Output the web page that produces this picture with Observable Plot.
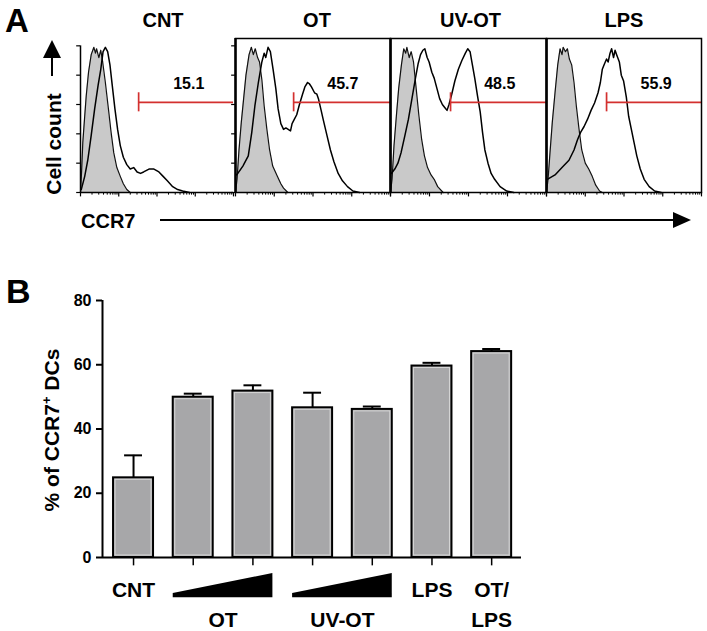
<!DOCTYPE html>
<html><head><meta charset="utf-8">
<script src="https://cdn.jsdelivr.net/npm/d3@7"></script>
<script src="https://cdn.jsdelivr.net/npm/@observablehq/plot@0.6"></script>
<style>
html,body{margin:0;padding:0;background:#fff;}
#root{position:relative;width:707px;height:631px;overflow:hidden;font-family:"Liberation Sans",Arial,Helvetica,sans-serif;font-weight:bold;color:#000;}
#root svg.part{position:absolute;overflow:visible;background:transparent;}
</style></head><body><div id="root"></div>
<script>
// ================= Panel A data (x = log decades of CCR7 intensity, y = % of max count) =================
const panelNames = ["CNT", "OT", "UV-OT", "LPS"];
const gatePercents = ["15.1", "45.7", "48.5", "55.9"];
const gateStarts = [1.52, 1.50, 1.54, 1.55];
const gateLevel = 61.5;
const gateLabelX = [2.83, 2.77, 2.80, 2.83];
const gateLabelY = 74;

const isoCNT = [[0,0],[0.03,15],[0.06,34],[0.11,52],[0.15,66],[0.21,82],[0.28,94],[0.35,99],[0.39,95],[0.42,98],[0.48,92],[0.53,97],[0.58,89],[0.65,75],[0.73,57],[0.80,41],[0.87,27],[0.95,17],[1.04,11],[1.12,6],[1.21,2],[1.30,0]];
const smpCNT = [[0.02,2],[0.11,11],[0.19,22],[0.28,39],[0.37,57],[0.46,73],[0.53,84],[0.59,96],[0.65,99],[0.71,96],[0.77,87],[0.83,73],[0.90,57],[0.97,43],[1.04,32],[1.12,24],[1.21,19],[1.30,16],[1.39,17],[1.48,14],[1.57,13],[1.65,14],[1.79,16],[1.92,16],[2.05,14],[2.16,11],[2.27,8],[2.41,4],[2.54,2],[2.67,1],[2.85,0]];

const isoOT = [[0,0],[0.04,9],[0.09,29],[0.15,48],[0.21,64],[0.27,80],[0.35,94],[0.41,99],[0.46,94],[0.51,98],[0.57,92],[0.62,89],[0.68,77],[0.74,59],[0.81,43],[0.88,29],[0.96,18],[1.08,11],[1.17,6],[1.24,3],[1.35,0]];
const smpOT = [[0.02,12],[0.06,13],[0.19,18],[0.33,25],[0.42,41],[0.50,59],[0.59,75],[0.68,89],[0.74,95],[0.78,92],[0.84,99],[0.90,96],[0.97,84],[1.04,71],[1.10,57],[1.17,47],[1.24,43],[1.30,44],[1.36,43],[1.42,42],[1.46,47],[1.52,50],[1.58,53],[1.65,60],[1.73,67],[1.79,72],[1.86,75],[1.91,74],[1.96,72],[2.04,68],[2.10,67],[2.14,64],[2.21,56],[2.27,49],[2.36,39],[2.45,29],[2.54,21],[2.65,13],[2.76,8],[2.89,4],[3.03,1],[3.20,0]];

const isoUV = [[0,0],[0.04,9],[0.09,32],[0.15,52],[0.21,71],[0.28,87],[0.34,98],[0.39,95],[0.42,99],[0.48,92],[0.53,96],[0.59,89],[0.65,73],[0.73,52],[0.80,36],[0.87,25],[0.95,17],[1.04,12],[1.12,9],[1.21,4],[1.35,0]];
const smpUV = [[0.02,13],[0.11,16],[0.19,20],[0.27,27],[0.37,39],[0.46,50],[0.55,64],[0.64,78],[0.71,88],[0.77,94],[0.83,97],[0.88,98],[0.94,92],[0.99,89],[1.06,82],[1.12,78],[1.19,71],[1.26,64],[1.33,60],[1.39,58],[1.45,56],[1.50,60],[1.57,67],[1.65,76],[1.74,84],[1.83,90],[1.92,95],[1.98,98],[2.04,96],[2.10,87],[2.16,78],[2.23,66],[2.30,55],[2.36,41],[2.42,29],[2.50,20],[2.58,13],[2.67,9],[2.81,4],[2.98,1],[3.16,0]];

const isoLPS = [[0,0],[0.04,9],[0.09,27],[0.15,48],[0.22,68],[0.29,87],[0.35,98],[0.40,94],[0.43,99],[0.49,96],[0.54,98],[0.59,91],[0.65,87],[0.71,75],[0.77,59],[0.84,43],[0.91,29],[1.00,20],[1.09,16],[1.18,11],[1.27,5],[1.37,1],[1.44,0]];
const smpLPS = [[0.02,9],[0.22,12],[0.40,17],[0.58,22],[0.71,29],[0.80,36],[0.88,41],[0.97,45],[1.06,50],[1.15,56],[1.24,61],[1.33,68],[1.39,75],[1.44,84],[1.50,88],[1.55,91],[1.59,89],[1.64,95],[1.68,98],[1.73,92],[1.77,97],[1.81,94],[1.88,89],[1.93,80],[1.99,76],[2.06,65],[2.12,52],[2.19,43],[2.26,34],[2.33,25],[2.42,16],[2.52,9],[2.65,4],[2.79,1],[2.96,0]];

// ================= Panel B data =================
const barGroups = ["CNT", "OT low", "OT high", "UV-OT low", "UV-OT high", "LPS", "OT/LPS"];
const barMeans  = [24.8, 49.9, 51.8, 46.6, 46.1, 59.6, 64.1];
const barErrors = [7.0, 1.1, 1.8, 4.7, 0.9, 1.0, 0.8];
const yTicksB = [0, 20, 40, 60, 80];
const row1Labels = ["CNT", "LPS", "OT/"];
const row1Index  = [0, 5, 6];
const row2Labels = ["OT", "UV-OT", "LPS"];
const row2Index  = [1.5, 3.5, 6];
const doseGroups = [[1, 2], [3, 4]];

// ================= Drawing =================
const root = document.getElementById("root");
const FONT = '"Liberation Sans", Arial, Helvetica, sans-serif';
const RED = "#d3302f";
const NS = "http://www.w3.org/2000/svg";

// decorations (labels and axis arrows)
const deco = document.createElementNS(NS, "svg");
deco.setAttribute("width", 707); deco.setAttribute("height", 631);
deco.setAttribute("class", "part");
deco.style.left = "0px"; deco.style.top = "0px";
deco.setAttribute("font-family", FONT); deco.setAttribute("font-weight", "bold");
deco.innerHTML = `
  <text x="5" y="32" font-size="33">A</text>
  <text x="6" y="303" font-size="34">B</text>
  <text transform="translate(61,144) rotate(-90)" text-anchor="middle" font-size="21">Cell count</text>
  <line x1="52" y1="76" x2="52" y2="55" stroke="#000" stroke-width="2"/>
  <polygon points="43,58 52,40 61,58" fill="#000"/>
  <text x="81" y="228" font-size="20">CCR7</text>
  <line x1="160" y1="220" x2="676" y2="220" stroke="#000" stroke-width="2"/>
  <polygon points="673,212 691,220 673,228" fill="#000"/>
  <text transform="translate(59,430) rotate(-90)" text-anchor="middle" font-size="21">% of CCR7<tspan font-size="13" dy="-8">+</tspan><tspan dy="8"> DCs</tspan></text>
`;
root.appendChild(deco);

// Panel A histograms
const boxes = [[80, 233], [235, 390], [390, 546], [546, 701]];
const titleDx = [6, 4, 2, 0];
const isoData = [isoCNT, isoOT, isoUV, isoLPS];
const smpData = [smpCNT, smpOT, smpUV, smpLPS];
const majorTicks = d3.range(0, 5);
const minorTicks = d3.range(0, 4).flatMap(k => d3.range(2, 10).map(m => k + Math.log10(m)));
const yTicksA = d3.range(0, 101, 20);

boxes.forEach(([L, R], i) => {
  const mL = 12, mR = 3, mT = 38, mB = 10;
  const marks = [
    Plot.areaY(isoData[i], {x: d => d[0], y: d => d[1], fill: "#c9c9c9"}),
    Plot.line(isoData[i], {x: d => d[0], y: d => d[1], stroke: "#111", strokeWidth: 1.2}),
    Plot.line(smpData[i], {x: d => d[0], y: d => d[1], stroke: "#000", strokeWidth: 1.5}),
    Plot.ruleY([gateLevel], {x1: gateStarts[i], x2: 4, stroke: RED, strokeWidth: 1.7}),
    Plot.ruleX([gateStarts[i]], {y1: gateLevel - 6.5, y2: gateLevel + 6.5, stroke: RED, strokeWidth: 1.7}),
    Plot.text([gatePercents[i]], {x: gateLabelX[i], y: gateLabelY, text: d => d, fontSize: 16, fontWeight: "bold", fill: "#000"}),
    Plot.text([panelNames[i]], {frameAnchor: "top", dy: -12, dx: titleDx[i], lineAnchor: "bottom", text: d => d, fontSize: 20, fontWeight: "bold", fill: "#000"}),
    Plot.ruleX(majorTicks, {y1: 0, y2: -3, strokeWidth: 1.2}),
    Plot.ruleX(minorTicks, {y1: 0, y2: -1.8, strokeWidth: 1})
  ];
  if (i === 0) {
    marks.push(Plot.ruleX([0], {y1: 0, y2: 100, strokeWidth: 1.5}));
    marks.push(Plot.ruleY([0], {x1: 0, x2: 4, strokeWidth: 1.5}));
    marks.push(Plot.ruleY(yTicksA, {x1: -0.1, x2: 0, strokeWidth: 1.2}));
  } else {
    marks.push(Plot.frame({stroke: "#000", strokeWidth: 1.5}));
    marks.push(Plot.ruleX([0], {strokeWidth: 2.5}));
    if (i === 1) marks.push(Plot.ruleY(yTicksA, {x1: -0.1, x2: 0, strokeWidth: 1.2}));
  }
  const svg = Plot.plot({
    width: mL + (R - L) + mR, height: mT + 154 + mB,
    marginLeft: mL, marginRight: mR, marginTop: mT, marginBottom: mB,
    x: {domain: [0, 4], axis: null},
    y: {domain: [0, 105], axis: null},
    style: {fontFamily: FONT, background: "transparent", overflow: "visible", color: "#000"},
    marks
  });
  svg.classList.add("part");
  svg.style.left = (L - mL) + "px"; svg.style.top = "0px";
  root.appendChild(svg);
});

// Panel B bar chart
const bars = barGroups.map((g, i) => ({g, i, mean: barMeans[i], top: barMeans[i] + barErrors[i]}));
const hw = 0.335;
const wedges = doseGroups.flatMap(([a, b], k) => [
  {k, x: a - hw, y1: -12.5, y2: -11.2},
  {k, x: b + hw, y1: -12.5, y2: -5.0}
]);
const row1 = row1Labels.map((t, j) => ({t, x: row1Index[j]}));
const row2 = row2Labels.map((t, j) => ({t, x: row2Index[j]}));
const xMin = -0.52, xMax = 6.5;

const chartB = Plot.plot({
  width: 560, height: 361,
  marginLeft: 102, marginRight: 39, marginTop: 30, marginBottom: 74,
  x: {domain: [xMin, xMax], axis: null},
  y: {domain: [0, 80], axis: null},
  style: {fontFamily: FONT, background: "transparent", overflow: "visible", color: "#000"},
  marks: [
    Plot.rectY(bars, {x1: d => d.i - hw, x2: d => d.i + hw, y: "mean", fill: "#a7a7a9", stroke: "#000", strokeWidth: 2}),
    Plot.rectY(bars, {x1: d => d.i - hw, x2: d => d.i + hw, y: "mean", fill: "none", stroke: "#d6d6d6", strokeWidth: 1, inset: 2}),
    Plot.ruleX(bars, {x: "i", y1: "mean", y2: "top", stroke: "#000", strokeWidth: 2}),
    Plot.ruleY(bars, {y: "top", x1: d => d.i - 0.15, x2: d => d.i + 0.15, stroke: "#000", strokeWidth: 2}),
    Plot.ruleX([xMin], {y1: 0, y2: 80, strokeWidth: 2}),
    Plot.ruleY([0], {strokeWidth: 2}),
    Plot.axisY({ticks: yTicksB, tickSize: 6, tickPadding: 5, fontSize: 16, fontWeight: "bold", strokeWidth: 2, label: null, tickFormat: d => String(d)}),
    Plot.ruleX(bars, {x: "i", y1: -0.3, y2: -2.6, strokeWidth: 1.5}),
    Plot.areaY(wedges, {x: "x", y1: "y1", y2: "y2", z: "k", fill: "#000"}),
    Plot.text(row1, {x: "x", y: -10.1, text: "t", fontSize: 21, fontWeight: "bold", fill: "#000"}),
    Plot.text(row2, {x: "x", y: -19.5, text: "t", fontSize: 21, fontWeight: "bold", fill: "#000"})
  ]
});
chartB.classList.add("part");
chartB.style.left = "0px"; chartB.style.top = "270px";
root.appendChild(chartB);
</script></body></html>
